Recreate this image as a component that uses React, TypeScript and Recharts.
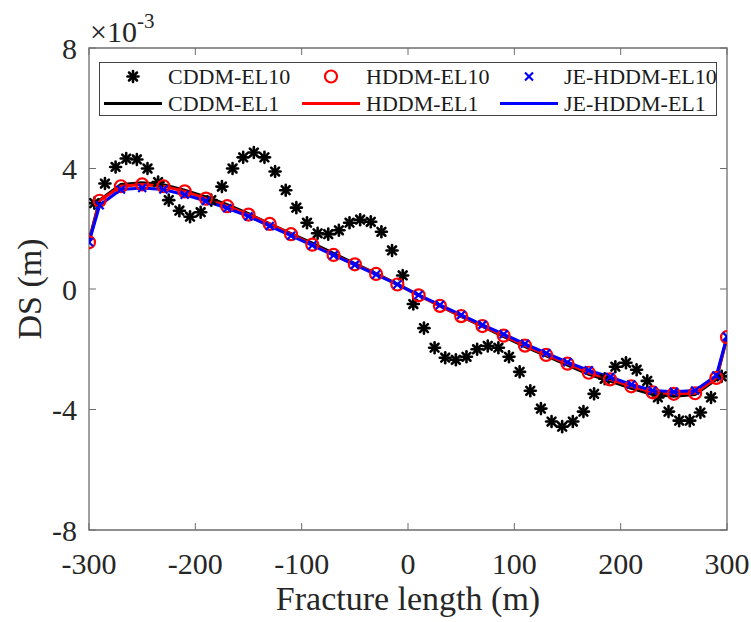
import { ComposedChart, Line, Scatter, XAxis, YAxis, ReferenceArea, Label } from "recharts";

// DS values are in units of 1e-3 m (axis shows "×10^-3")
const X_NODES = [-300, -290, -270, -250, -230, -210, -190, -170, -150, -130, -110, -90, -70, -50, -30, -10,
  10, 30, 50, 70, 90, 110, 130, 150, 170, 190, 210, 230, 250, 270, 290, 300];

const CDDM_EL1 = [1.6, 2.95, 3.47, 3.53, 3.46, 3.28, 3.06, 2.8, 2.5, 2.16, 1.84, 1.52, 1.18, 0.84, 0.51, 0.16,
  -0.2, -0.56, -0.91, -1.24, -1.58, -1.91, -2.22, -2.53, -2.83, -3.06, -3.3, -3.5, -3.56, -3.5, -3.0, -1.6];

const HDDM_EL1 = [1.55, 2.93, 3.41, 3.47, 3.41, 3.24, 3.0, 2.75, 2.47, 2.16, 1.82, 1.47, 1.13, 0.82, 0.5, 0.15,
  -0.21, -0.56, -0.9, -1.23, -1.55, -1.88, -2.19, -2.48, -2.78, -3.0, -3.23, -3.43, -3.48, -3.46, -2.95, -1.6];

const JE_HDDM_EL1 = [1.55, 2.78, 3.3, 3.35, 3.3, 3.13, 2.92, 2.68, 2.41, 2.09, 1.77, 1.45, 1.12, 0.8, 0.48, 0.15,
  -0.2, -0.53, -0.86, -1.19, -1.5, -1.82, -2.13, -2.43, -2.7, -2.92, -3.17, -3.37, -3.41, -3.37, -2.87, -1.58];

// EL10 markers sit on the EL1 curves
const HDDM_EL10 = HDDM_EL1;
const JE_HDDM_EL10 = JE_HDDM_EL1;

const X_ELEMS = [-295, -285, -275, -265, -255, -245, -235, -225, -215, -205, -195, -185, -175, -165, -155,
  -145, -135, -125, -115, -105, -95, -85, -75, -65, -55, -45, -35, -25, -15, -5,
  5, 15, 25, 35, 45, 55, 65, 75, 85, 95, 105, 115, 125, 135, 145,
  155, 165, 175, 185, 195, 205, 215, 225, 235, 245, 255, 265, 275, 285, 295];

const CDDM_EL10 = [2.85, 3.5, 4.05, 4.33, 4.3, 4.0, 3.55, 2.95, 2.6, 2.4, 2.55, 2.95, 3.4, 4.0, 4.37,
  4.53, 4.37, 3.9, 3.28, 2.7, 2.2, 1.85, 1.82, 1.95, 2.2, 2.3, 2.23, 1.9, 1.28, 0.45,
  -0.5, -1.3, -1.95, -2.28, -2.35, -2.25, -2.0, -1.89, -1.95, -2.25, -2.75, -3.38, -3.97, -4.4, -4.57,
  -4.4, -4.07, -3.48, -2.98, -2.58, -2.45, -2.68, -3.05, -3.6, -4.07, -4.37, -4.37, -4.1, -3.6, -2.9];

const X_TICKS = [-300, -200, -100, 0, 100, 200, 300];
const Y_TICKS = [-8, -4, 0, 4, 8];

const toPoints = (xs: number[], ys: number[]) => xs.map((x, i) => ({ x, y: ys[i] }));

const W = 751;
const H = 622;
const PLOT_LEFT = 89;
const PLOT_TOP = 48;
const PLOT_RIGHT = 24;
const PLOT_BOTTOM = 92;
const PLOT_W = W - PLOT_LEFT - PLOT_RIGHT;
const PLOT_H = H - PLOT_TOP - PLOT_BOTTOM;
const TICK_LEN = 7;
const FONT = "Liberation Serif, Times New Roman, Times, DejaVu Serif, serif";
const TEXT = "#262626";
const AXIS = "#6e6e6e";

function Asterisk({ cx, cy }: any) {
  const r = 5.5;
  const d = r * 0.72;
  return (
    <g stroke="#000" strokeWidth={2.6} strokeLinecap="round">
      <line x1={cx - r} y1={cy} x2={cx + r} y2={cy} />
      <line x1={cx} y1={cy - r} x2={cx} y2={cy + r} />
      <line x1={cx - d} y1={cy - d} x2={cx + d} y2={cy + d} />
      <line x1={cx - d} y1={cy + d} x2={cx + d} y2={cy - d} />
    </g>
  );
}

function Circle({ cx, cy }: any) {
  return <circle cx={cx} cy={cy} r={6} fill="none" stroke="#ff0000" strokeWidth={2.2} />;
}

function Cross({ cx, cy }: any) {
  const r = 4;
  return (
    <g stroke="#0000ff" strokeWidth={2.2}>
      <line x1={cx - r} y1={cy - r} x2={cx + r} y2={cy + r} />
      <line x1={cx - r} y1={cy + r} x2={cx + r} y2={cy - r} />
    </g>
  );
}

function XTick({ x, y, payload }: any) {
  return (
    <g>
      <line x1={x} y1={y} x2={x} y2={y - TICK_LEN} stroke={AXIS} />
      <line x1={x} y1={y - PLOT_H} x2={x} y2={y - PLOT_H + TICK_LEN} stroke={AXIS} />
      <text x={x} y={y + 33} textAnchor="middle" dominantBaseline="central"
        style={{ fontFamily: FONT }} fontSize={30} fill={TEXT}>{payload.value}</text>
    </g>
  );
}

function YTick({ x, y, payload }: any) {
  return (
    <g>
      <line x1={x} y1={y} x2={x + TICK_LEN} y2={y} stroke={AXIS} />
      <line x1={x + PLOT_W} y1={y} x2={x + PLOT_W - TICK_LEN} y2={y} stroke={AXIS} />
      <text x={x - 12} y={y} textAnchor="end" dominantBaseline="central"
        style={{ fontFamily: FONT }} fontSize={30} fill={TEXT}>{payload.value}</text>
    </g>
  );
}

function YTitle({ viewBox }: any) {
  const cx = viewBox.x + 29;
  const cy = viewBox.y + viewBox.height / 2;
  return (
    <text x={cx} y={cy} transform={`rotate(-90, ${cx}, ${cy})`} textAnchor="middle" dominantBaseline="central"
      style={{ fontFamily: FONT }} fontSize={34} fill={TEXT}>DS (m)</text>
  );
}

function Exponent({ viewBox }: any) {
  const x = viewBox.x + viewBox.width + 1;
  const y = viewBox.y - 6;
  return (
    <text x={x} y={y} style={{ fontFamily: FONT }} fontSize={30} fill={TEXT}>
      ×10<tspan fontSize={21} dy={-14}>-3</tspan>
    </text>
  );
}

const LEGEND_ITEMS = [
  { name: "CDDM-EL10", kind: "asterisk" },
  { name: "HDDM-EL10", kind: "circle" },
  { name: "JE-HDDM-EL10", kind: "cross" },
  { name: "CDDM-EL1", kind: "line", color: "#000" },
  { name: "HDDM-EL1", kind: "line", color: "#ff0000" },
  { name: "JE-HDDM-EL1", kind: "line", color: "#0000ff" },
];

function LegendBox() {
  return (
    <div style={{
      position: "absolute", left: 99, top: 62, width: 618, height: 54, boxSizing: "border-box",
      border: "1px solid #444", background: "#fff", fontFamily: FONT, fontSize: 22, color: "#1a1a1a",
    }}>
      {LEGEND_ITEMS.map((item, i) => {
        const col = i % 3;
        const row = Math.floor(i / 3);
        return (
          <div key={item.name} style={{
            position: "absolute", left: 4 + col * 198, top: row * 27, height: 27,
            display: "flex", alignItems: "center", whiteSpace: "nowrap",
          }}>
            <svg width={58} height={27} style={{ marginRight: 6 }}>
              {item.kind === "line" && <line x1={0} y1={13.5} x2={58} y2={13.5} stroke={item.color} strokeWidth={3} />}
              {item.kind === "asterisk" && <Asterisk cx={29} cy={13.5} />}
              {item.kind === "circle" && <Circle cx={29} cy={13.5} />}
              {item.kind === "cross" && <Cross cx={29} cy={13.5} />}
            </svg>
            <span>{item.name}</span>
          </div>
        );
      })}
    </div>
  );
}

export default function App() {
  return (
    <div style={{ position: "absolute", left: 0, top: 0, width: W, height: H, background: "#fff", fontFamily: FONT }}>
      <ComposedChart width={W} height={H} margin={{ top: PLOT_TOP, right: PLOT_RIGHT, left: 0, bottom: 0 }}
        style={{ fontFamily: FONT }}>
        <XAxis dataKey="x" type="number" domain={[-300, 300]} ticks={X_TICKS} allowDataOverflow
          height={PLOT_BOTTOM} tickSize={0} tickMargin={0} axisLine={false} tick={<XTick />}>
          <Label position="insideBottom" offset={12} value="Fracture length (m)"
            style={{ fontFamily: FONT, fontSize: 34, fill: TEXT }} />
        </XAxis>
        <YAxis type="number" domain={[-8, 8]} ticks={Y_TICKS} allowDataOverflow width={PLOT_LEFT}
          tickSize={0} tickMargin={0} axisLine={false} tick={<YTick />}>
          <Label content={<YTitle />} />
          <Label content={<Exponent />} />
        </YAxis>
        <ReferenceArea x1={-300} x2={300} y1={-8} y2={8} fill="none" stroke={AXIS} strokeWidth={1.3} />
        <Scatter name="CDDM-EL10" data={toPoints(X_ELEMS, CDDM_EL10)} dataKey="y" shape={<Asterisk />}
          isAnimationActive={false} />
        <Scatter name="HDDM-EL10" data={toPoints(X_NODES, HDDM_EL10)} dataKey="y" shape={<Circle />}
          isAnimationActive={false} />
        <Scatter name="JE-HDDM-EL10" data={toPoints(X_NODES, JE_HDDM_EL10)} dataKey="y" shape={<Cross />}
          isAnimationActive={false} />
        <Line name="CDDM-EL1" data={toPoints(X_NODES, CDDM_EL1)} dataKey="y" stroke="#000" strokeWidth={3}
          dot={false} isAnimationActive={false} />
        <Line name="HDDM-EL1" data={toPoints(X_NODES, HDDM_EL1)} dataKey="y" stroke="#ff0000" strokeWidth={3}
          dot={false} isAnimationActive={false} />
        <Line name="JE-HDDM-EL1" data={toPoints(X_NODES, JE_HDDM_EL1)} dataKey="y" stroke="#0000ff" strokeWidth={3}
          dot={false} isAnimationActive={false} />
      </ComposedChart>
      <LegendBox />
    </div>
  );
}
